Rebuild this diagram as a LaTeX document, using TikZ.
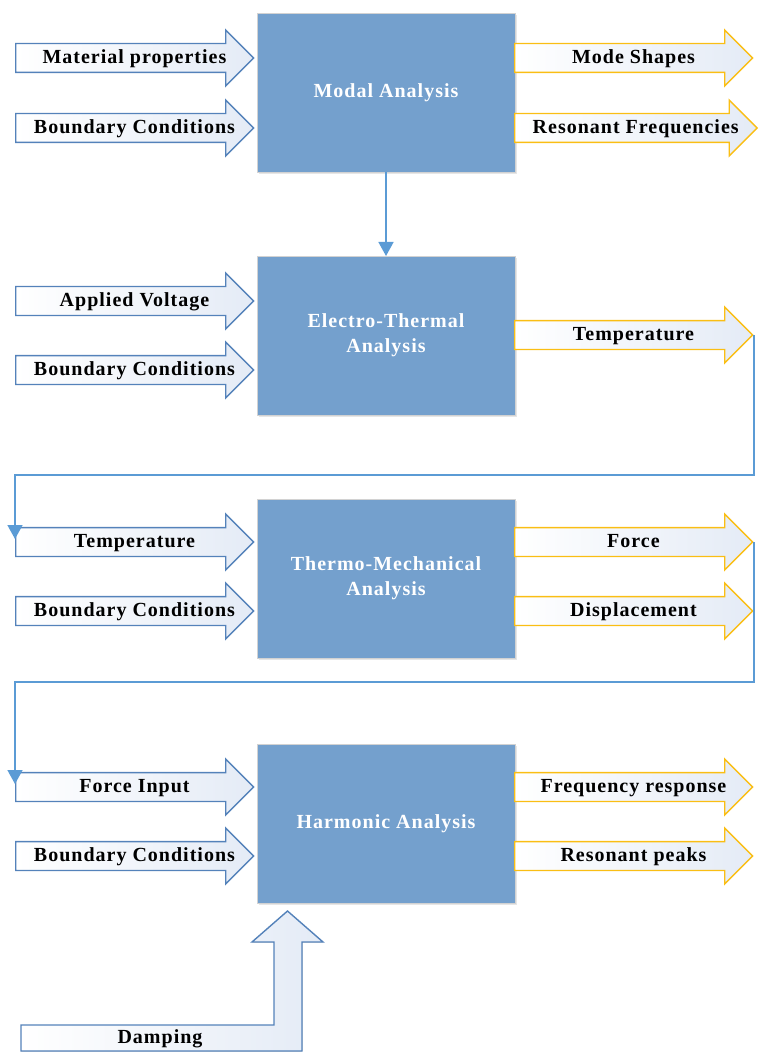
\documentclass[tikz,border=0pt]{standalone}
\usepackage{fontspec}
\setmainfont{Liberation Serif}
\newfontfamily\flowfont[LetterSpace=5]{Liberation Serif}
\usetikzlibrary{positioning, shapes.arrows, arrows.meta, shadows, calc}

\definecolor{stageblue}{RGB}{116,160,205}
\definecolor{inblue}{RGB}{84,130,186}
\definecolor{outgold}{RGB}{250,190,20}
\definecolor{linkblue}{RGB}{91,155,213}
\definecolor{arrowfill}{RGB}{228,235,246}

\begin{document}
\begin{tikzpicture}[x=1pt, y=-1pt,
  stage/.style={draw=gray!35, fill=stageblue, minimum width=258pt, minimum height=159pt, outer sep=0pt,
    text=white, font=\flowfont\fontsize{20}{25}\selectfont\bfseries, align=center,
    drop shadow={opacity=0.2, shadow xshift=2pt, shadow yshift=-2pt}},
  flow/.style={single arrow, single arrow head extend=13.5pt, shape border rotate=0,
    minimum height=238pt, inner ysep=6pt, text height=13.5pt, text depth=2pt, line width=1.4pt,
    left color=white, right color=arrowfill, font=\flowfont\fontsize{20}{22}\selectfont\bfseries,
    execute at begin node=\hspace*{14pt}},
  inflow/.style={flow, draw=inblue},
  outflow/.style={flow, draw=outgold},
  link/.style={draw=linkblue, line width=1.6pt, -{Triangle[width=15pt,length=14pt]}}]
  \useasboundingbox (0,0) rectangle (766,1064);

  % analysis stages
  \node[stage] (modal) at (386,92.5) {Modal Analysis};
  \node[stage, below=84pt of modal] (electro) {Electro-Thermal\\Analysis};
  \node[stage, below=84pt of electro] (thermo) {Thermo-Mechanical\\Analysis};
  \node[stage, below=86pt of thermo] (harmonic) {Harmonic Analysis};

  % inputs
  \node[inflow, anchor=tail] (matprop) at (15,58) {Material properties};
  \node[inflow, anchor=tail] (bcmodal) at (15,128) {Boundary Conditions};
  \node[inflow, anchor=tail] (volt) at (15,301) {Applied Voltage};
  \node[inflow, anchor=tail] (bcelec) at (15,370) {Boundary Conditions};
  \node[inflow, anchor=tail] (tempin) at (15,542) {Temperature};
  \node[inflow, anchor=tail] (bcthermo) at (15,611) {Boundary Conditions};
  \node[inflow, anchor=tail] (forcein) at (15,787) {Force Input};
  \node[inflow, anchor=tail] (bcharm) at (15,856) {Boundary Conditions};

  % outputs
  \node[outflow, anchor=tail] (modes) at (514,58) {Mode Shapes};
  \node[outflow, anchor=tail] (resfreq) at (514,128) {Resonant Frequencies};
  \node[outflow, anchor=tail] (tempout) at (514,335) {Temperature};
  \node[outflow, anchor=tail] (forceout) at (514,542) {Force};
  \node[outflow, anchor=tail] (disp) at (514,611) {Displacement};
  \node[outflow, anchor=tail] (freqresp) at (514,787) {Frequency response};
  \node[outflow, anchor=tail] (respeak) at (514,856) {Resonant peaks};

  % damping (bent arrow)
  \filldraw[draw=inblue, line width=1.4pt, left color=white, right color=arrowfill]
    (21,1025) -- (274,1025) -- (274,942) -- (252,942) -- (287.5,911) -- (323,942)
    -- (302,942) -- (302,1051) -- (21,1051) -- cycle;
  \node[font=\flowfont\fontsize{20}{22}\selectfont\bfseries] (damp) at (160,1039) {Damping};

  % links
  \coordinate (turn1) at (tempout.tip |- 0,475);
  \coordinate (turn2) at (forceout.tip |- 0,682);
  \coordinate (drop1) at (tempin.tail |- 0,539);
  \coordinate (drop2) at (forcein.tail |- 0,784);
  \draw[link] (modal) -- (electro);
  \draw[link] (tempout.tip) -- (turn1) -| (drop1);
  \draw[link] (forceout.tip) -- (turn2) -| (drop2);
\end{tikzpicture}
\end{document}
